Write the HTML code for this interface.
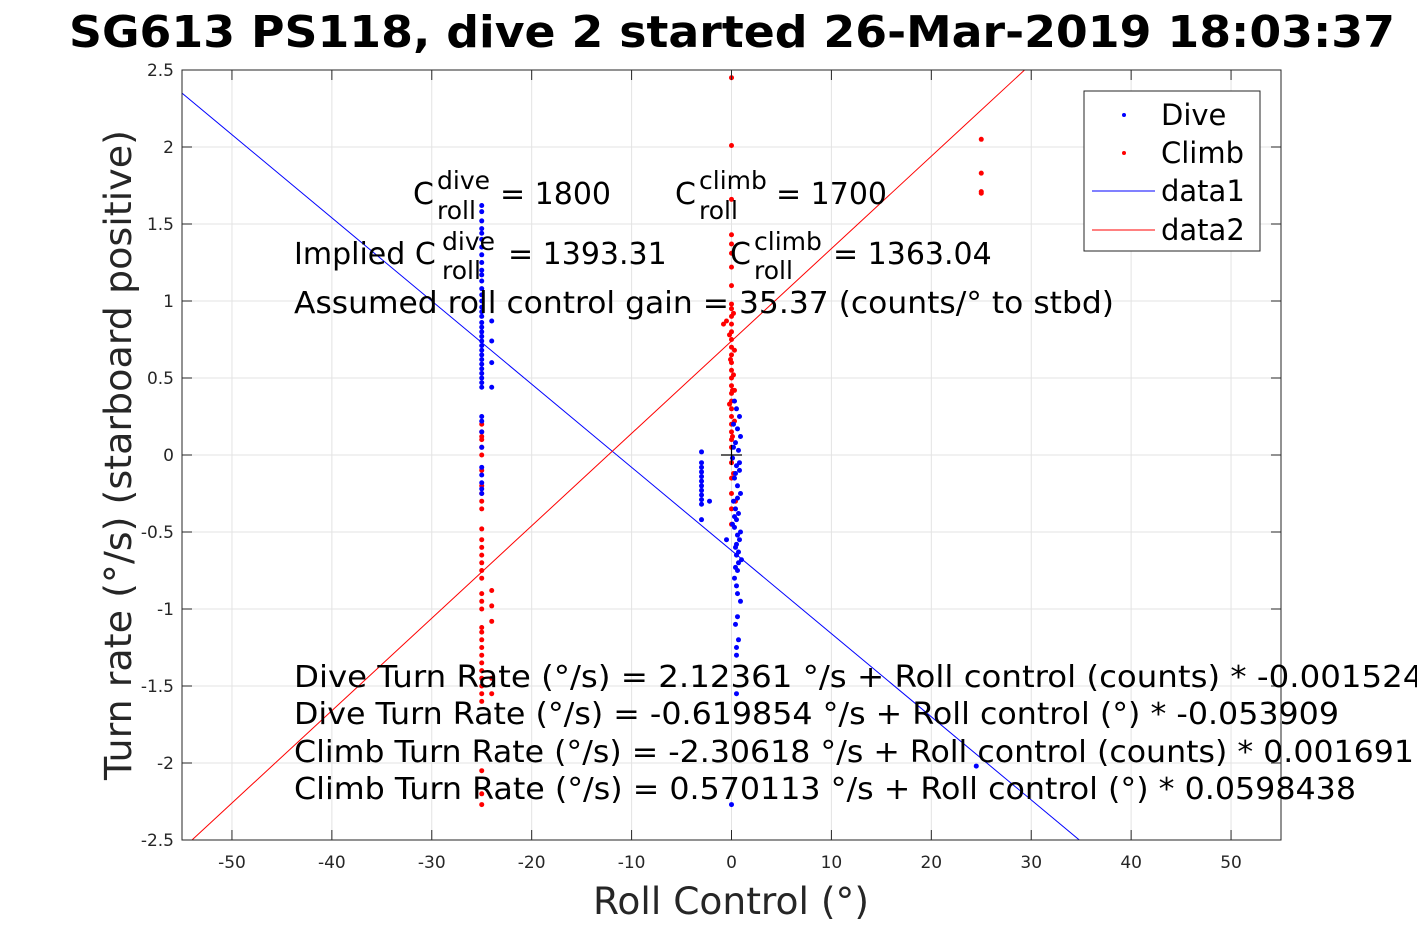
<!DOCTYPE html>
<html><head><meta charset="utf-8"><style>
html,body{margin:0;background:#fff;overflow:hidden;width:1417px;height:945px}
svg{display:block;font-family:"DejaVu Sans","Liberation Sans",sans-serif}
</style></head><body>
<svg id="chart" width="1417" height="945" xmlns="http://www.w3.org/2000/svg">
<rect width="1417" height="945" fill="#fff"/>
<text x="69" y="47" textLength="1326" lengthAdjust="spacingAndGlyphs" font-size="44" font-weight="bold">SG613 PS118, dive 2 started 26-Mar-2019 18:03:37</text>
<rect x="182" y="70" width="1099" height="770" fill="#fff"/>
<g id="grid"></g>
<defs><clipPath id="clip"><rect x="182" y="70" width="1099" height="770"/></clipPath></defs>
<g id="lines" clip-path="url(#clip)"></g>
<g id="pts" clip-path="url(#clip)"></g>
<g stroke="#000" stroke-width="1.2">
<line x1="721" y1="455" x2="742" y2="455"/><line x1="731.5" y1="445" x2="731.5" y2="465"/></g>
<rect x="182" y="70" width="1099" height="770" fill="none" stroke="#262626" stroke-width="1"/>
<g id="ticks" font-size="17" fill="#262626"></g>
<text x="593" y="914" textLength="276" lengthAdjust="spacingAndGlyphs" font-size="37" fill="#262626">Roll Control (°)</text>
<text transform="translate(131,780) rotate(-90)" textLength="650" lengthAdjust="spacingAndGlyphs" font-size="37" fill="#262626">Turn rate (°/s) (starboard positive)</text>
<g font-size="30" fill="#000">
<text x="413" y="204">C</text><text x="437" y="189" font-size="25">dive</text><text x="437" y="219" font-size="25">roll</text><text x="500" y="204">= 1800</text>
<text x="675" y="204">C</text><text x="699" y="189" font-size="25">climb</text><text x="699" y="219" font-size="25">roll</text><text x="776" y="204">= 1700</text>
<text x="294" y="264">Implied C</text><text x="442" y="250" font-size="25">dive</text><text x="442" y="279" font-size="25">roll</text><text x="508" y="264">= 1393.31</text>
<text x="730" y="264">C</text><text x="754" y="250" font-size="25">climb</text><text x="754" y="279" font-size="25">roll</text><text x="833" y="264">= 1363.04</text>
<text x="294" y="313" textLength="820" lengthAdjust="spacingAndGlyphs">Assumed roll control gain = 35.37 (counts/° to stbd)</text>
<text x="294" y="687" textLength="1150" lengthAdjust="spacingAndGlyphs">Dive Turn Rate (°/s) = 2.12361 °/s + Roll control (counts) * -0.0015241</text>
<text x="294" y="724" textLength="1045" lengthAdjust="spacingAndGlyphs">Dive Turn Rate (°/s) = -0.619854 °/s + Roll control (°) * -0.053909</text>
<text x="294" y="762" textLength="1120" lengthAdjust="spacingAndGlyphs">Climb Turn Rate (°/s) = -2.30618 °/s + Roll control (counts) * 0.001691</text>
<text x="294" y="799" textLength="1062" lengthAdjust="spacingAndGlyphs">Climb Turn Rate (°/s) = 0.570113 °/s + Roll control (°) * 0.0598438</text>
</g>
<g font-size="29">
<rect x="1084" y="91" width="176" height="160" fill="#fff" stroke="#262626"/>
<circle cx="1124" cy="115" r="2" fill="#00f"/><text x="1161" y="125">Dive</text>
<circle cx="1124" cy="153" r="2" fill="#f00"/><text x="1161" y="163">Climb</text>
<line x1="1092" y1="191" x2="1155" y2="191" stroke="#00f"/><text x="1161" y="201">data1</text>
<line x1="1092" y1="230" x2="1155" y2="230" stroke="#f00"/><text x="1161" y="240">data2</text>
</g>
</svg>
<script>
const xTicks=[-50,-40,-30,-20,-10,0,10,20,30,40,50];
const yTicks=[-2.5,-2,-1.5,-1,-0.5,0,0.5,1,1.5,2,2.5];
const yTickLabels=["-2.5","-2","-1.5","-1","-0.5","0","0.5","1","1.5","2","2.5"];
const diveFit=[-0.62,-0.054];
const climbFit=[0.74,0.06];
const diveColX=[-25,-25,-25,-25,-25,-25,-25,-25,-25,-25,-25,-25,-25,-25,-25,-25,-25,-25,-25,-25,-25,-25,-25,-25,-25,-25,-25,-25,-25,-25,-25,-25,-25,-24,-24,-24,-24,-25,-25,-25,-25,-25,-25,-25,-25,-25];
const diveColY=[1.62,1.58,1.52,1.47,1.44,1.4,1.35,1.3,1.25,1.2,1.17,1.13,1.08,1.04,1,0.96,0.93,0.9,0.86,0.83,0.8,0.77,0.74,0.71,0.68,0.65,0.62,0.59,0.56,0.53,0.5,0.47,0.44,0.87,0.74,0.6,0.44,0.25,0.22,0.15,0.05,-0.08,-0.13,-0.18,-0.22,-0.25];
const diveMidX=[-3,-3,-3,-3,-3,-3,-3,-3,-3,-3,-3,-3,-2.2,-0.5];
const diveMidY=[0.02,-0.05,-0.08,-0.11,-0.14,-0.17,-0.2,-0.23,-0.26,-0.29,-0.32,-0.42,-0.3,-0.55];
const diveZeroX=[0.3,0.5,0.8,0.2,0.6,0.9,0.4,0.7,0.1,0.5,0.8,0.3,0.6,0.9,0.2,0.4,0.7,0.5,0.3,0.6,0.8,0.4,0.5,0.7,0.6,0.3,0.5,0.9,0.6,0.4,0.7,0.5,0.5,0.6,0.5,0.4,1,0.7,0.2,0.8,0.4,0.6,0.3,0.9,0.5,0.1,0,24.5];
const diveZeroY=[0.35,0.3,0.25,0.2,0.17,0.12,0.08,0.03,-0.02,-0.07,-0.1,-0.15,-0.2,-0.25,-0.3,-0.35,-0.38,-0.42,-0.47,-0.52,-0.55,-0.6,-0.65,-0.7,-0.75,-0.8,-0.85,-0.95,-1.05,-1.1,-1.2,-1.25,-1.3,-0.9,-1.55,-0.73,-0.68,-0.63,0.05,-0.05,-0.12,-0.28,-0.4,-0.5,-0.58,-0.45,-2.27,-2.02];
const climbColX=[-25,-25,-25,-25,-25,-25,-25,-25,-25,-25,-25,-25,-25,-25,-25,-25,-25,-25,-25,-25,-25,-25,-25,-25,-25,-25,-25,-25,-25,-25,-25,-25,-25,-25,-25,-24,-24,-24,-24,-24];
const climbColY=[0.2,0.15,0.12,0.1,0.05,0,-0.1,-0.2,-0.25,-0.3,-0.35,-0.48,-0.55,-0.6,-0.65,-0.7,-0.75,-0.8,-0.9,-0.95,-1,-1.12,-1.15,-1.2,-1.25,-1.3,-1.35,-1.4,-1.45,-1.5,-1.55,-1.6,-2.05,-2.2,-2.27,-0.88,-0.98,-1.08,-1.45,-1.55];
const climbZeroX=[0,0,0,0,0,0,0,0,0,0,0,0,0,0,0,0,0,0,0,0,0,0,0,0,0,0,0,0,0,0,0,0,0,0.2,-0.2,0.3,-0.1,0.2,0.1,-0.2,0.3,0.1,-0.5,-0.8,0.3,0.2,0.4,25,25,25,25];
const climbZeroY=[2.45,2.01,1.66,1.43,1.37,1.31,1.22,1.1,0.98,0.95,0.9,0.85,0.8,0.75,0.7,0.65,0.6,0.55,0.5,0.45,0.4,0.35,0.3,0.25,0.2,0.15,0.1,0.05,-0.05,-0.15,-0.25,-0.35,-0.45,0.92,0.78,0.68,0.62,0.52,0.42,0.33,0.22,0.12,0.87,0.85,0.42,-0.12,-0.3,2.05,1.83,1.71,1.7];
const X0=182,X1=1281,Y0=70,Y1=840,XMIN=-55,XMAX=55,YMIN=-2.5,YMAX=2.5;
const sx=v=>X0+(v-XMIN)/(XMAX-XMIN)*(X1-X0);
const sy=v=>Y1-(v-YMIN)/(YMAX-YMIN)*(Y1-Y0);
const NS="http://www.w3.org/2000/svg";
function mk(tag,attrs,parent){const e=document.createElementNS(NS,tag);for(const k in attrs)e.setAttribute(k,attrs[k]);parent.appendChild(e);return e;}
const grid=document.getElementById('grid'),ticks=document.getElementById('ticks');
xTicks.forEach(t=>{
 const g=mk('line',{x1:sx(t),x2:sx(t),y1:Y0,y2:Y1,stroke:'#e3e3e3'},grid);
 
 
 mk('line',{x1:sx(t),x2:sx(t),y1:Y1,y2:Y1-10,stroke:'#262626'},ticks);
 mk('line',{x1:sx(t),x2:sx(t),y1:Y0,y2:Y0+10,stroke:'#262626'},ticks);
 const l=mk('text',{x:sx(t),y:Y1+28,'text-anchor':'middle'},ticks);l.textContent=t;
 
 
});
yTicks.forEach((t,i)=>{
 const g=mk('line',{x1:X0,x2:X1,y1:sy(t),y2:sy(t),stroke:'#e3e3e3'},grid);
 
 
 mk('line',{x1:X0,x2:X0+10,y1:sy(t),y2:sy(t),stroke:'#262626'},ticks);
 mk('line',{x1:X1,x2:X1-10,y1:sy(t),y2:sy(t),stroke:'#262626'},ticks);
 const l=mk('text',{x:X0-8,y:sy(t)+6,'text-anchor':'end'},ticks);l.textContent=yTickLabels[i];
 
 
});
const lines=document.getElementById('lines');
[[diveFit,'#00f','dive-fit-line'],[climbFit,'#f00','climb-fit-line']].forEach(([f,c,n])=>{
 const l=mk('line',{x1:sx(XMIN),y1:sy(f[0]+f[1]*XMIN),x2:sx(XMAX),y2:sy(f[0]+f[1]*XMAX),stroke:c,'stroke-width':1},lines);
 
 
});
const pts=document.getElementById('pts');
function scatter(xs,ys,c,n){xs.forEach((x,i)=>{
 const p=mk('circle',{cx:sx(x),cy:sy(ys[i]),r:2.5,fill:c},pts);
 
 
});}
scatter(climbColX,climbColY,'#f00','climb-point');
scatter(climbZeroX,climbZeroY,'#f00','climb-point');
scatter(diveColX,diveColY,'#00f','dive-point');
scatter(diveMidX,diveMidY,'#00f','dive-point');
scatter(diveZeroX,diveZeroY,'#00f','dive-point');
</script>
</body></html>
